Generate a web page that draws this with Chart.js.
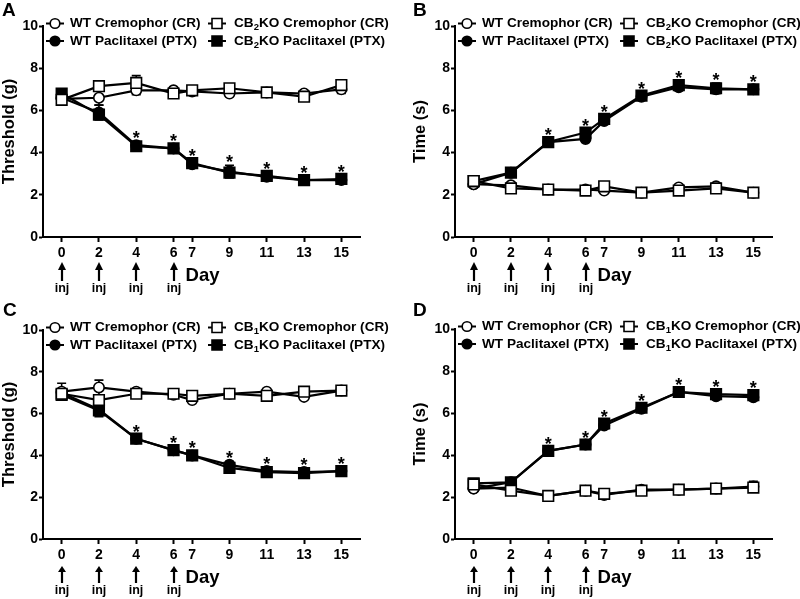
<!DOCTYPE html>
<html>
<head>
<meta charset="utf-8">
<script src="https://cdn.jsdelivr.net/npm/chart.js@4.4.1/dist/chart.umd.min.js"></script>
<style>
  body { margin: 0; background: #fff; }
  #wrap { position: relative; width: 800px; height: 599px; overflow: hidden; }
  canvas { position: absolute; }
</style>
</head>
<body>
<div id="wrap">
  <canvas id="cA" width="400" height="300" style="left:0;top:0"></canvas>
  <canvas id="cB" width="400" height="300" style="left:400px;top:0"></canvas>
  <canvas id="cC" width="400" height="299" style="left:0;top:300px"></canvas>
  <canvas id="cD" width="400" height="299" style="left:400px;top:300px"></canvas>
</div>
<script>
// x categories (days) and markers
const days = [0, 2, 4, 6, 7, 9, 11, 13, 15];
const injDays = [0, 2, 4, 6];
const starDays = [4, 6, 7, 9, 11, 13, 15];

// A - CB2KO, mechanical threshold (g)
const aWtCR   = [6.55, 6.6, 6.95, 6.95, 6.9, 6.8, 6.85, 6.8, 7.0];
const aKoCR   = [6.5, 7.15, 7.3, 6.8, 6.95, 7.05, 6.85, 6.65, 7.2];
const aWtPTX  = [6.6, 5.9, 4.35, 4.2, 3.45, 3.1, 2.85, 2.7, 2.7];
const aKoPTX  = [6.8, 5.8, 4.3, 4.2, 3.5, 3.05, 2.9, 2.7, 2.75];
const aWtCRErr  = [0.1, 0.35, 0.2, 0.1, 0.1, 0.1, 0.1, 0.1, 0.2];
const aKoCRErr  = [0.1, 0.15, 0.35, 0.1, 0.15, 0.1, 0.1, 0.1, 0.1];
const aWtPTXErr = [0.1, 0.35, 0.15, 0.1, 0.1, 0.3, 0.1, 0.1, 0.2];
const aKoPTXErr = [0.15, 0.15, 0.1, 0.15, 0.1, 0.15, 0.1, 0.1, 0.15];

// B - CB2KO, cold response time (s)
const bWtCR   = [2.5, 2.45, 2.25, 2.25, 2.2, 2.1, 2.35, 2.4, 2.1];
const bKoCR   = [2.65, 2.3, 2.25, 2.2, 2.4, 2.1, 2.2, 2.3, 2.1];
const bWtPTX  = [2.5, 3.05, 4.5, 4.65, 5.5, 6.65, 7.1, 7.0, 7.0];
const bKoPTX  = [2.65, 3.05, 4.5, 4.95, 5.6, 6.7, 7.2, 7.05, 7.0];
const bWtCRErr  = [0.1, 0.1, 0.1, 0.1, 0.1, 0.1, 0.1, 0.1, 0.1];
const bKoCRErr  = [0.1, 0.1, 0.1, 0.1, 0.1, 0.1, 0.1, 0.1, 0.1];
const bWtPTXErr = [0.1, 0.1, 0.15, 0.1, 0.15, 0.15, 0.15, 0.2, 0.15];
const bKoPTXErr = [0.1, 0.1, 0.1, 0.15, 0.1, 0.15, 0.15, 0.25, 0.15];

// C - CB1KO, mechanical threshold (g)
const cWtCR   = [7.05, 7.25, 7.05, 6.9, 6.65, 6.95, 7.05, 6.8, 7.1];
const cKoCR   = [6.95, 6.65, 6.95, 6.95, 6.85, 6.95, 6.85, 7.05, 7.1];
const cWtPTX  = [7.0, 6.2, 4.8, 4.25, 4.0, 3.55, 3.25, 3.2, 3.25];
const cKoPTX  = [6.9, 6.15, 4.8, 4.25, 4.0, 3.4, 3.2, 3.15, 3.25];
const cWtCRErr  = [0.4, 0.35, 0.1, 0.1, 0.1, 0.1, 0.1, 0.1, 0.1];
const cKoCRErr  = [0.15, 0.15, 0.1, 0.1, 0.1, 0.1, 0.1, 0.1, 0.1];
const cWtPTXErr = [0.15, 0.2, 0.1, 0.1, 0.1, 0.15, 0.1, 0.1, 0.1];
const cKoPTXErr = [0.15, 0.3, 0.1, 0.15, 0.1, 0.1, 0.1, 0.1, 0.1];

// D - CB1KO, cold response time (s)
const dWtCR   = [2.4, 2.45, 2.05, 2.3, 2.1, 2.35, 2.35, 2.4, 2.5];
const dKoCR   = [2.6, 2.3, 2.05, 2.3, 2.15, 2.3, 2.35, 2.4, 2.45];
const dWtPTX  = [2.4, 2.7, 4.2, 4.5, 5.4, 6.2, 7.0, 6.8, 6.75];
const dKoPTX  = [2.65, 2.7, 4.2, 4.5, 5.5, 6.25, 7.0, 6.9, 6.85];
const dWtCRErr  = [0.1, 0.1, 0.1, 0.1, 0.1, 0.1, 0.1, 0.1, 0.25];
const dKoCRErr  = [0.1, 0.1, 0.1, 0.1, 0.1, 0.1, 0.1, 0.1, 0.1];
const dWtPTXErr = [0.1, 0.1, 0.1, 0.1, 0.1, 0.1, 0.1, 0.1, 0.1];
const dKoPTXErr = [0.1, 0.1, 0.1, 0.1, 0.1, 0.15, 0.1, 0.1, 0.1];

const FONT = '"Liberation Sans", Arial, sans-serif';
const W = 400;

function toPoints(vals) {
  return days.map((d, i) => ({ x: d, y: vals[i] }));
}

function series(vals, style, filled) {
  return {
    data: toPoints(vals),
    borderColor: '#000',
    borderWidth: 2.2,
    tension: 0,
    pointStyle: style,
    pointRadius: style === 'rect' ? 7.5 : 5.2,
    pointBorderWidth: 1.6,
    pointBorderColor: '#000',
    pointBackgroundColor: filled ? '#000' : '#fff',
    clip: false
  };
}

function legendMarker(ctx, x, y, style, filled) {
  ctx.strokeStyle = '#000';
  ctx.lineWidth = 2;
  ctx.beginPath();
  ctx.moveTo(x - 9, y);
  ctx.lineTo(x + 9, y);
  ctx.stroke();
  ctx.lineWidth = 1.6;
  ctx.fillStyle = filled ? '#000' : '#fff';
  ctx.beginPath();
  if (style === 'circle') ctx.arc(x, y, 4.8, 0, Math.PI * 2);
  else ctx.rect(x - 5, y - 5, 10, 10);
  ctx.fill();
  ctx.stroke();
}

function legendText(ctx, x, y, parts) {
  // parts alternate: normal text, subscript, normal text
  ctx.fillStyle = '#000';
  ctx.textBaseline = 'middle';
  ctx.textAlign = 'left';
  let cx = x;
  parts.forEach((t, i) => {
    if (i % 2 === 1) {
      ctx.font = 'bold 9.5px ' + FONT;
      ctx.fillText(t, cx, y + 4);
    } else {
      ctx.font = 'bold 13.6px ' + FONT;
      ctx.fillText(t, cx, y);
    }
    cx += ctx.measureText(t).width;
  });
}

function makePanel(id, p) {
  const H = p.h;
  const decor = {
    id: 'decor',
    beforeDatasetsDraw(chart) {
      const ctx = chart.ctx, xs = chart.scales.x, ys = chart.scales.y;
      ctx.save();
      ctx.strokeStyle = '#000';
      ctx.lineWidth = 1.6;
      p.errs.forEach((errs, s) => {
        const vals = p.vals[s];
        days.forEach((d, i) => {
          const x = xs.getPixelForValue(d);
          const y1 = ys.getPixelForValue(vals[i] + errs[i]);
          const y2 = ys.getPixelForValue(vals[i] - errs[i]);
          ctx.beginPath();
          ctx.moveTo(x, y1); ctx.lineTo(x, y2);
          ctx.moveTo(x - 4.5, y1); ctx.lineTo(x + 4.5, y1);
          ctx.moveTo(x - 4.5, y2); ctx.lineTo(x + 4.5, y2);
          ctx.stroke();
        });
      });
      ctx.restore();
    },
    afterDraw(chart) {
      const ctx = chart.ctx, xs = chart.scales.x, ys = chart.scales.y;
      const area = chart.chartArea;
      ctx.save();
      // panel letter
      ctx.fillStyle = '#000';
      ctx.font = 'bold 19px ' + FONT;
      ctx.textAlign = 'left';
      ctx.textBaseline = 'alphabetic';
      ctx.fillText(p.letter, p.letterX, 16);

      // legend
      const L = area.left, T = area.top;
      const r1 = T - 2.5, r2 = T + 15;
      legendMarker(ctx, L + 12, r1, 'circle', false);
      legendText(ctx, L + 27, r1, ['WT Cremophor (CR)']);
      legendMarker(ctx, L + 12, r2, 'circle', true);
      legendText(ctx, L + 27, r2, ['WT Paclitaxel (PTX)']);
      legendMarker(ctx, L + 174, r1, 'rect', false);
      legendText(ctx, L + 191, r1, ['CB', p.sub, 'KO Cremophor (CR)']);
      legendMarker(ctx, L + 174, r2, 'rect', true);
      legendText(ctx, L + 191, r2, ['CB', p.sub, 'KO Paclitaxel (PTX)']);

      // significance asterisks above the PTX groups
      ctx.font = 'bold 18px ' + FONT;
      ctx.textAlign = 'center';
      ctx.textBaseline = 'alphabetic';
      starDays.forEach(d => {
        const i = days.indexOf(d);
        let top = Infinity;
        [2, 3].forEach(s => {
          const yp = ys.getPixelForValue(p.vals[s][i]) - 11;
          const ye = ys.getPixelForValue(p.vals[s][i] + p.errs[s][i]) - 7;
          top = Math.min(top, yp, ye);
        });
        ctx.fillText('*', xs.getPixelForValue(d), top + 10);
      });

      // injection arrows
      const B = area.bottom;
      ctx.fillStyle = '#000';
      ctx.strokeStyle = '#000';
      injDays.forEach(d => {
        const x = Math.round(xs.getPixelForValue(d));
        ctx.lineWidth = 2.2;
        ctx.beginPath();
        ctx.moveTo(x, B + 30); ctx.lineTo(x, B + 44);
        ctx.stroke();
        ctx.beginPath();
        ctx.moveTo(x, B + p.arrowTip);
        ctx.lineTo(x - 4, B + 33);
        ctx.lineTo(x + 4, B + 33);
        ctx.closePath();
        ctx.fill();
        ctx.font = 'bold 12.5px ' + FONT;
        ctx.textAlign = 'center';
        ctx.textBaseline = 'alphabetic';
        ctx.fillText('inj', x, B + 55);
      });

      // x axis title
      ctx.font = 'bold 18.5px ' + FONT;
      ctx.textAlign = 'left';
      ctx.fillText('Day', xs.getPixelForValue(6) + 12, B + 44);
      ctx.restore();
    }
  };

  new Chart(document.getElementById(id), {
    type: 'line',
    data: {
      datasets: [
        series(p.vals[1], 'rect', false),
        series(p.vals[3], 'rect', true),
        series(p.vals[0], 'circle', false),
        series(p.vals[2], 'circle', true)
      ]
    },
    options: {
      responsive: false,
      animation: false,
      devicePixelRatio: 1,
      layout: { padding: { left: 0, top: p.top, right: W - p.right, bottom: 0 } },
      plugins: { legend: { display: false }, tooltip: { enabled: false } },
      scales: {
        x: {
          type: 'linear',
          min: -1,
          max: 16,
          afterBuildTicks: ax => { ax.ticks = days.map(v => ({ value: v })); },
          afterFit: s => { s.height = H - p.bottom; },
          grid: { drawOnChartArea: false, drawTicks: true, tickLength: 5, tickWidth: 2, tickColor: '#000' },
          border: { display: true, width: 2, color: '#000' },
          ticks: { color: '#000', font: { family: FONT, size: 14, weight: 'bold' }, padding: 3, maxRotation: 0, autoSkip: false }
        },
        y: {
          min: 0,
          max: 10,
          afterFit: s => { s.width = p.left; },
          grid: { drawOnChartArea: false, drawTicks: true, tickLength: 4, tickWidth: 2, tickColor: '#000' },
          border: { display: true, width: 2, color: '#000' },
          ticks: { stepSize: 2, color: '#000', font: { family: FONT, size: 14, weight: 'bold' }, padding: 1 },
          title: {
            display: true,
            text: p.yTitle,
            color: '#000',
            font: { family: FONT, size: 16.5, weight: 'bold', lineHeight: 1.2 },
            padding: { top: p.titlePad, bottom: 0 }
          }
        }
      }
    },
    plugins: [decor]
  });
}

makePanel('cA', {
  h: 300, left: 43, top: 26, right: 360, bottom: 237, letter: 'A', letterX: 2, sub: '2',
  yTitle: 'Threshold (g)', titlePad: 0, arrowTip: 25,
  vals: [aWtCR, aKoCR, aWtPTX, aKoPTX], errs: [aWtCRErr, aKoCRErr, aWtPTXErr, aKoPTXErr]
});
makePanel('cB', {
  h: 300, left: 55, top: 26, right: 372, bottom: 237, letter: 'B', letterX: 13, sub: '2',
  yTitle: 'Time (s)', titlePad: 11, arrowTip: 25,
  vals: [bWtCR, bKoCR, bWtPTX, bKoPTX], errs: [bWtCRErr, bKoCRErr, bWtPTXErr, bKoPTXErr]
});
makePanel('cC', {
  h: 299, left: 43, top: 30, right: 360, bottom: 239, letter: 'C', letterX: 3, sub: '1',
  yTitle: 'Threshold (g)', titlePad: 0, arrowTip: 27,
  vals: [cWtCR, cKoCR, cWtPTX, cKoPTX], errs: [cWtCRErr, cKoCRErr, cWtPTXErr, cKoPTXErr]
});
makePanel('cD', {
  h: 299, left: 55, top: 29, right: 372, bottom: 239, letter: 'D', letterX: 13, sub: '1',
  yTitle: 'Time (s)', titlePad: 11, arrowTip: 27,
  vals: [dWtCR, dKoCR, dWtPTX, dKoPTX], errs: [dWtCRErr, dKoCRErr, dWtPTXErr, dKoPTXErr]
});
</script>
</body>
</html>
